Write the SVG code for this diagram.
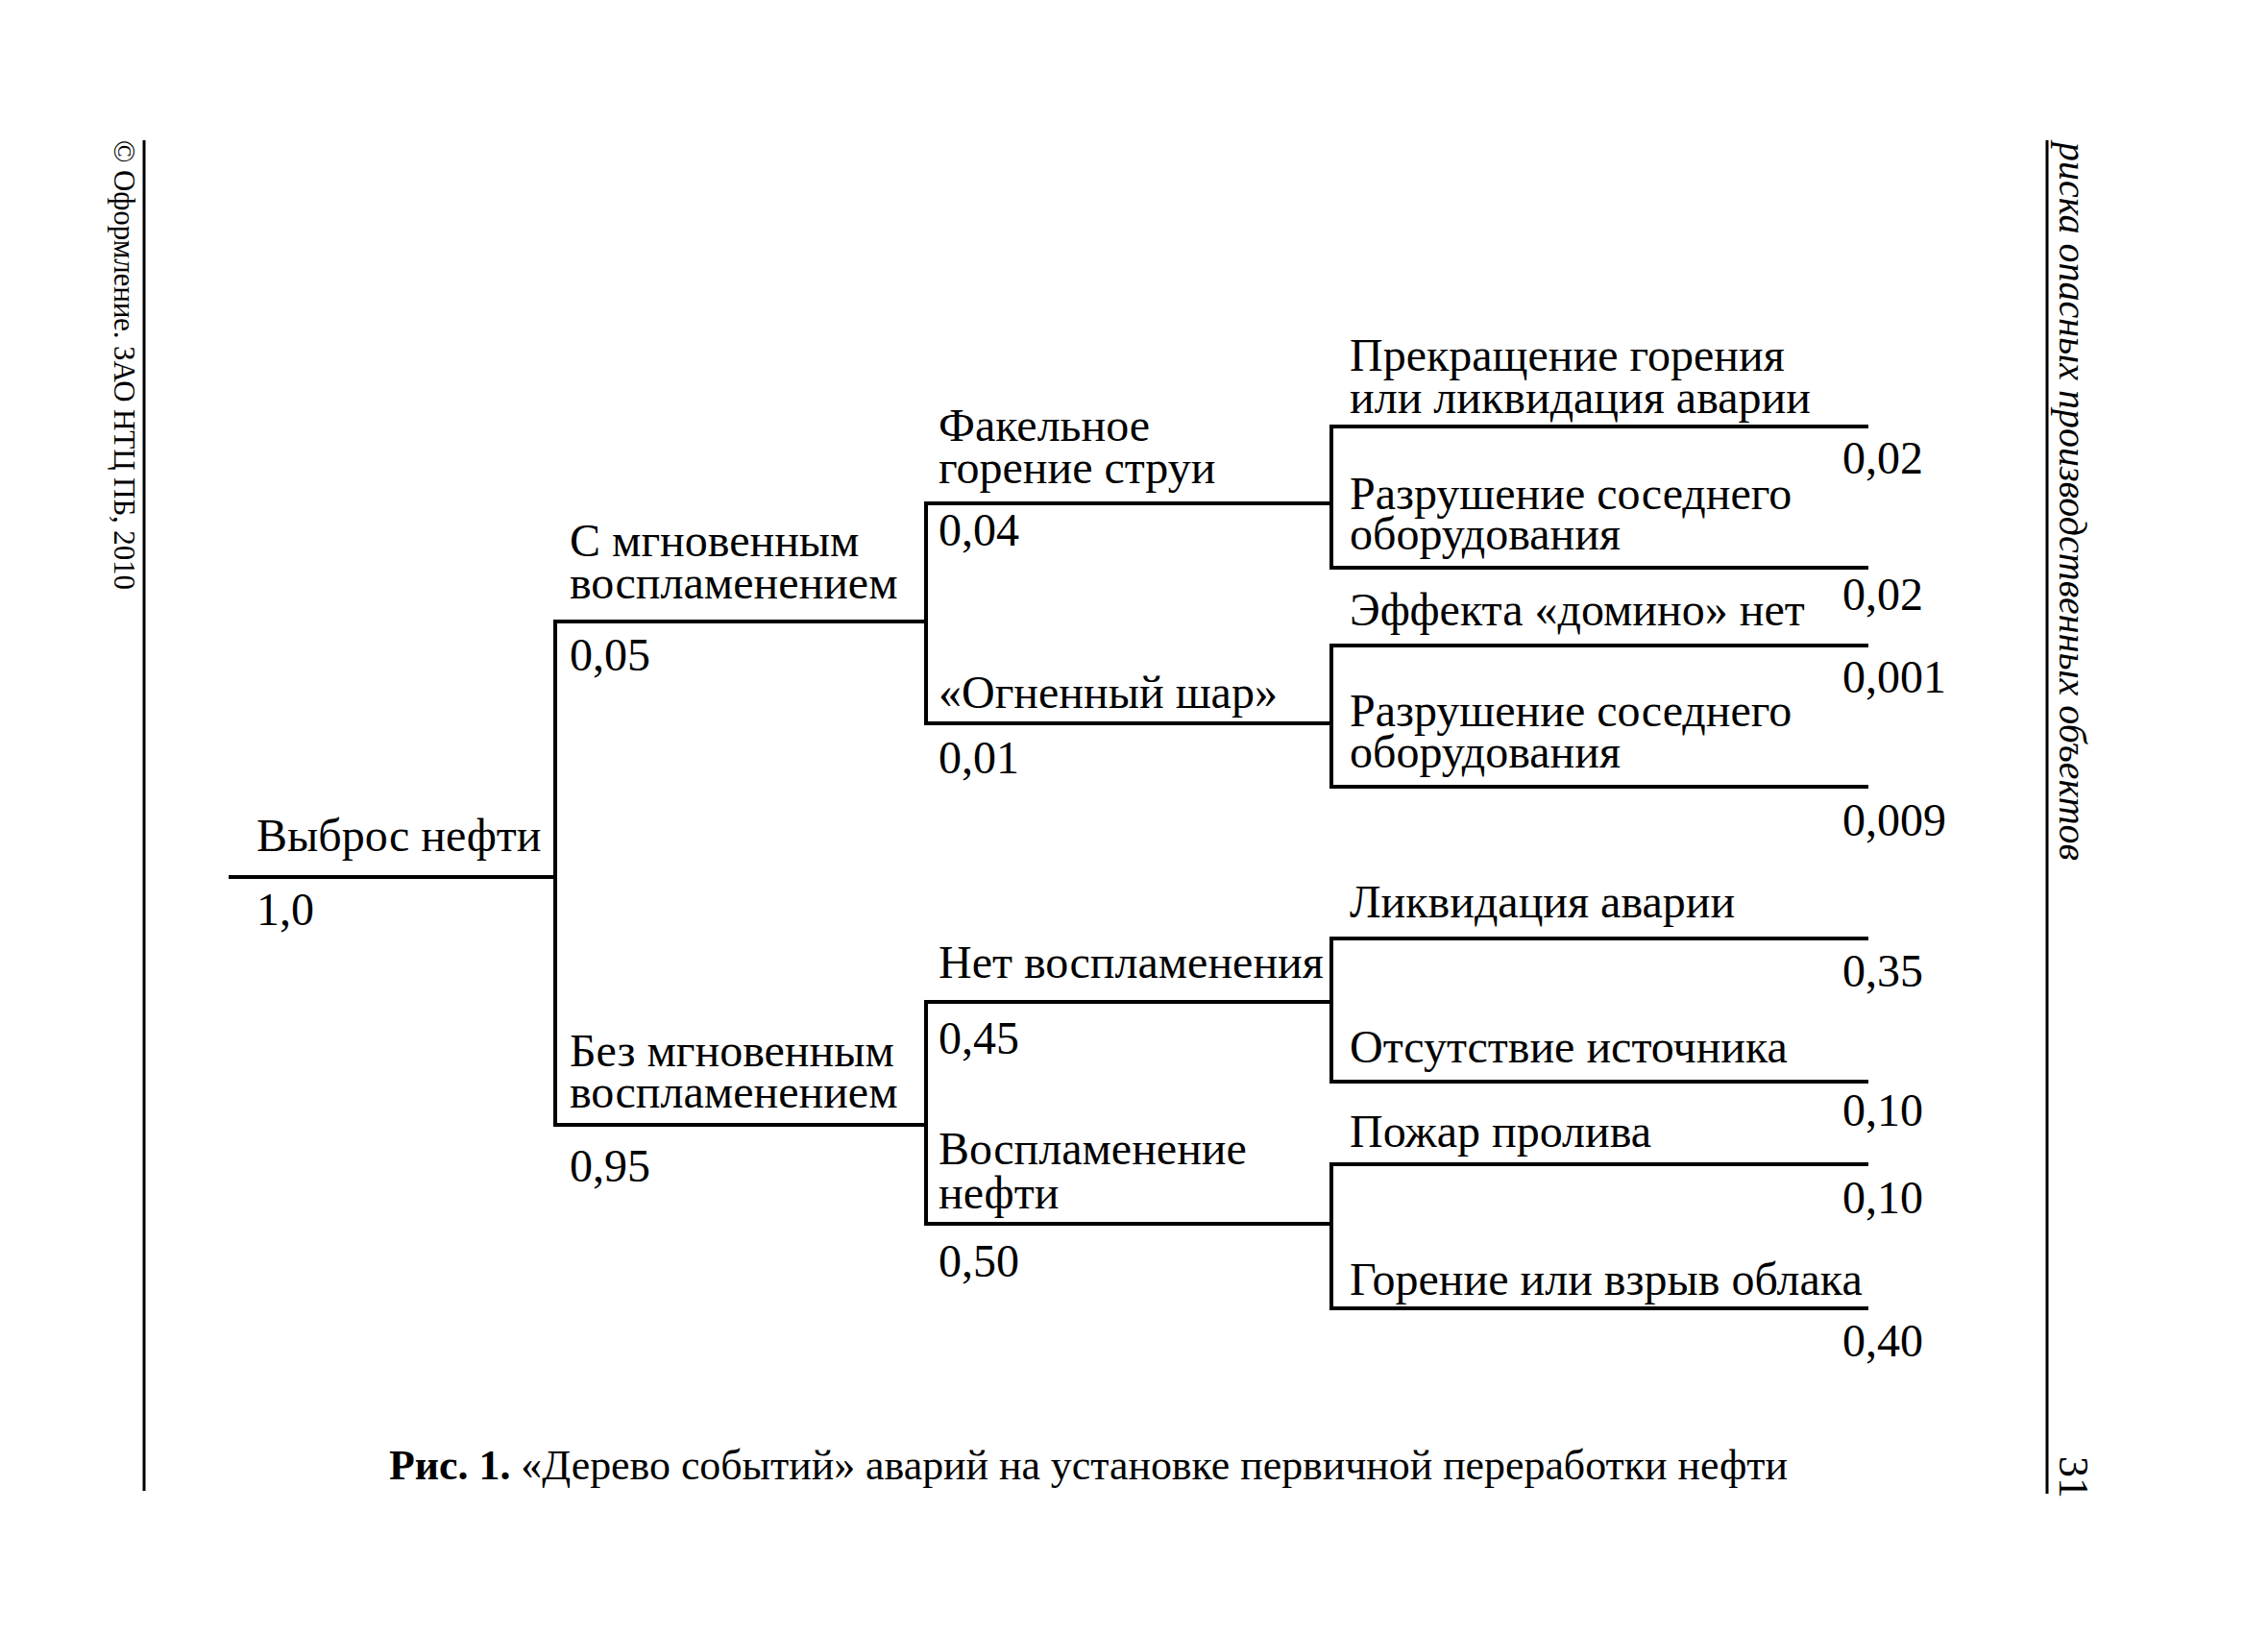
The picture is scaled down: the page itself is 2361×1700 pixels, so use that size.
<svg xmlns="http://www.w3.org/2000/svg" width="2361" height="1700" viewBox="0 0 2361 1700">
<style>
.t{font-family:"Liberation Serif","Times New Roman",serif;font-size:48px;fill:#000}
.l{fill:none;stroke:#000;stroke-width:4;stroke-linecap:square}
.m{fill:none;stroke:#000;stroke-width:3}
.cap{font-family:"Liberation Serif","Times New Roman",serif;font-size:44px;fill:#000}
</style>
<rect width="2361" height="1700" fill="#fff"/>
<g id="page-frame">
<line class="m" x1="150" y1="146" x2="150" y2="1552"/>
<line class="m" x1="2131" y1="146" x2="2131" y2="1555"/>
<text transform="translate(119,146) rotate(90)" font-family="Liberation Serif,serif" font-size="31" textLength="468" lengthAdjust="spacing">© Оформление. ЗАО НТЦ ПБ, 2010</text>
<text transform="translate(2144,148) rotate(90)" font-family="Liberation Serif,serif" font-style="italic" font-size="40">риска опасных производственных объектов</text>
<text transform="translate(2144,1516) rotate(90)" font-family="Liberation Serif,serif" font-size="44">31</text>
</g>
<g id="connectors">
<path class="l" d="M240 913H578"/>
<path class="l" d="M964 647H578V1171H964"/>
<path class="l" d="M1386 524H964V753H1386"/>
<path class="l" d="M1386 1043H964V1274H1386"/>
<path class="l" d="M1943 444H1386V591H1943"/>
<path class="l" d="M1943 672H1386V819H1943"/>
<path class="l" d="M1943 977H1386V1126H1943"/>
<path class="l" d="M1943 1212H1386V1362H1943"/>
</g>
<g id="n-root"><text class="t" x="267" y="886">Выброс нефти</text><text class="t" x="267" y="963">1,0</text></g>
<g id="n-immediate"><text class="t" x="593" y="579">С мгновенным<tspan x="593" dy="44">воспламенением</tspan></text><text class="t" x="593" y="698">0,05</text></g>
<g id="n-nonimmediate"><text class="t" x="593" y="1110">Без мгновенным<tspan x="593" dy="43">воспламенением</tspan></text><text class="t" x="593" y="1230">0,95</text></g>
<g id="n-jet"><text class="t" x="977" y="459">Факельное<tspan x="977" dy="44">горение струи</tspan></text><text class="t" x="977" y="568">0,04</text></g>
<g id="n-fireball"><text class="t" x="977" y="737">«Огненный шар»</text><text class="t" x="977" y="805">0,01</text></g>
<g id="n-noignition"><text class="t" x="977" y="1018">Нет воспламенения</text><text class="t" x="977" y="1097">0,45</text></g>
<g id="n-ignition"><text class="t" x="977" y="1212">Воспламенение<tspan x="977" dy="46">нефти</tspan></text><text class="t" x="977" y="1329">0,50</text></g>
<g id="o1"><text class="t" x="1405" y="386">Прекращение горения<tspan x="1405" dy="44">или ликвидация аварии</tspan></text><text class="t" x="1918" y="493">0,02</text></g>
<g id="o2"><text class="t" x="1405" y="530">Разрушение соседнего<tspan x="1405" dy="42">оборудования</tspan></text><text class="t" x="1918" y="635">0,02</text></g>
<g id="o3"><text class="t" x="1405" y="651">Эффекта «домино» нет</text><text class="t" x="1918" y="721">0,001</text></g>
<g id="o4"><text class="t" x="1405" y="756">Разрушение соседнего<tspan x="1405" dy="43">оборудования</tspan></text><text class="t" x="1918" y="870">0,009</text></g>
<g id="o5"><text class="t" x="1405" y="955">Ликвидация аварии</text><text class="t" x="1918" y="1027">0,35</text></g>
<g id="o6"><text class="t" x="1405" y="1106">Отсутствие источника</text><text class="t" x="1918" y="1172">0,10</text></g>
<g id="o7"><text class="t" x="1405" y="1194">Пожар пролива</text><text class="t" x="1918" y="1263">0,10</text></g>
<g id="o8"><text class="t" x="1405" y="1348">Горение или взрыв облака</text><text class="t" x="1918" y="1412">0,40</text></g>
<g id="caption"><text class="cap" x="405" y="1540" textLength="1456" lengthAdjust="spacingAndGlyphs"><tspan font-weight="bold">Рис. 1.</tspan> «Дерево событий» аварий на установке первичной переработки нефти</text></g>
</svg>
